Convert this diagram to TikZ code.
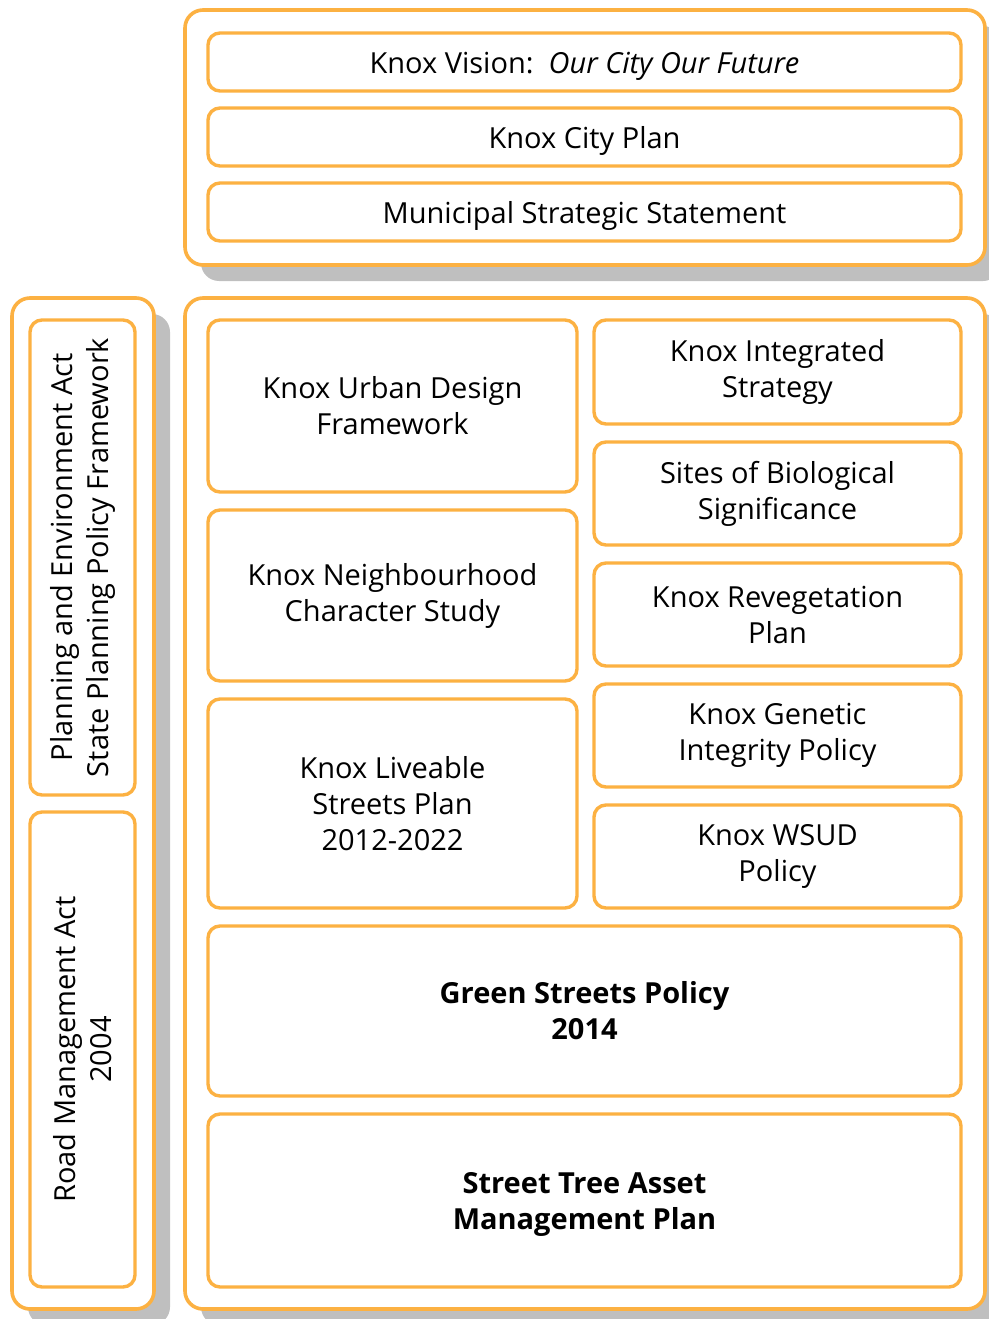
\documentclass[tikz,border=0pt]{standalone}
\usepackage{fontspec}
\setmainfont{Open Sans}
\usepackage{xcolor}
\usepackage{tikz}
\usetikzlibrary{shadows}
\definecolor{cam}{RGB}{252,177,66}
\definecolor{bong}{RGB}{191,191,191}
\newcommand{\chu}{\fontsize{29}{36}\selectfont}

\begin{document}
\begin{tikzpicture}[x=1pt,y=-1pt,
	khung/.style={draw=cam,line width=3.6pt,rounded corners=18pt,fill=white,inner sep=0pt,
		drop shadow={shadow xshift=16pt,shadow yshift=-16pt,fill=bong,opacity=1}},
	hop/.style={draw=cam,line width=3.4pt,rounded corners=12pt,fill=white,inner sep=0pt,align=center,font=\chu},
	motdong/.style={hop,minimum width=753pt,minimum height=58pt,text height=23pt,text depth=0pt}]
			\useasboundingbox (0,0) rectangle (988,1319);
			% Vẽ khung ngoài
			\node[khung,minimum width=800pt,minimum height=255pt] (tren) at (585,137.5) {};
			\node[khung,minimum width=142pt,minimum height=1011pt] (trai) at (83,803.5) {};
			\node[khung,minimum width=800pt,minimum height=1011pt] (phai) at (585,803.5) {};
			% Vẽ các hộp trên
			\node[motdong] (vision) at (584.5,62) {Knox Vision:\ \ \textit{Our City Our Future}};
			\node[motdong] (cityplan) at (584.5,137) {Knox City Plan};
			\node[motdong] (mss) at (584.5,212) {Municipal Strategic Statement};
			% Vẽ các hộp bên trái
			\node[hop,minimum width=475pt,minimum height=105pt,rotate=90] (pea) at (82.5,557.5) {Planning and Environment Act\\State Planning Policy Framework};
			\node[hop,minimum width=475pt,minimum height=105pt,rotate=90] (rma) at (82.5,1049.5) {Road Management Act\\2004};
			% Vẽ các hộp giữa
			\node[hop,minimum width=369pt,minimum height=172pt] (udf) at (392.5,406) {Knox Urban Design\\Framework};
			\node[hop,minimum width=369pt,minimum height=171pt] (ncs) at (392.5,595.5) {Knox Neighbourhood\\Character Study};
			\node[hop,minimum width=369pt,minimum height=209pt] (lsp) at (392.5,803.5) {Knox Liveable\\Streets Plan\\2012-2022};
			\node[hop,minimum width=367pt,minimum height=104pt] (kis) at (777.5,372) {Knox Integrated\\Strategy};
			\node[hop,minimum width=367pt,minimum height=103pt] (sbs) at (777.5,493.5) {Sites of Biological\\Significance};
			\node[hop,minimum width=367pt,minimum height=103pt] (krp) at (777.5,614.5) {Knox Revegetation\\Plan};
			\node[hop,minimum width=367pt,minimum height=103pt] (kgi) at (777.5,735.5) {Knox Genetic\\Integrity Policy};
			\node[hop,minimum width=367pt,minimum height=103pt] (wsud) at (777.5,856.5) {Knox WSUD\\Policy};
			% Vẽ các hộp dưới
			\node[hop,minimum width=753pt,minimum height=170pt,font=\chu\bfseries] (gsp) at (584.5,1011) {Green Streets Policy\\2014};
			\node[hop,minimum width=753pt,minimum height=173pt,font=\chu\bfseries,text depth=0pt] (stamp) at (584.5,1200.5) {Street Tree Asset\\Management Plan};
		\end{tikzpicture}
\end{document}
